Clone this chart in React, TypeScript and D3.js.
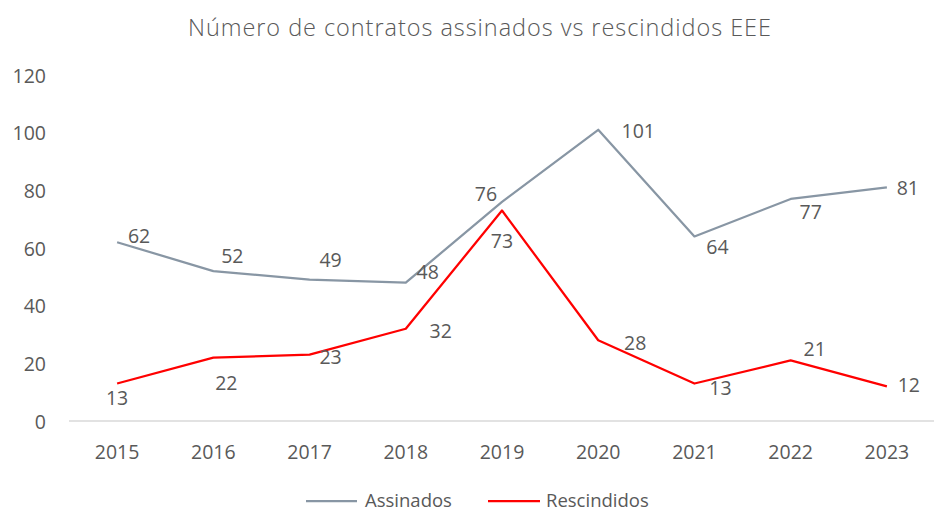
import React from "react";
import * as d3 from "d3";

const years = ["2015", "2016", "2017", "2018", "2019", "2020", "2021", "2022", "2023"];
const assinados = [62, 52, 49, 48, 76, 101, 64, 77, 81];
const rescindidos = [13, 22, 23, 32, 73, 28, 13, 21, 12];
const yTicks = [0, 20, 40, 60, 80, 100, 120];
const title = "Número de contratos assinados vs rescindidos EEE";

// label placement offsets (dx, dy) relative to each point
const assinadosLabelOffsets = [[22, -7], [19, -16], [21, -20], [22, -11], [-16, -8], [40, 1], [23, 10], [20, 13], [21, 0]];
const rescindidosLabelOffsets = [[0, 14], [13, 25], [21, 2], [35, 2], [0, 30], [37, 2], [26, 4], [24, -12], [22, -2]];

const W = 935, H = 512;
const FONT = "'Open Sans', sans-serif";
const TEXT = "#595959";

export default function App() {
  const x = d3.scalePoint<string>().domain(years).range([69, 935]).padding(0.5);
  const y = d3.scaleLinear().domain([0, 120]).range([421, 75]);
  const line = d3.line<number>().x((_, i) => x(years[i])!).y((d) => y(d));

  const series = [
    { name: "Assinados", values: assinados, color: "#8896A4", offs: assinadosLabelOffsets },
    { name: "Rescindidos", values: rescindidos, color: "#FF0000", offs: rescindidosLabelOffsets },
  ];

  return (
    <svg width={W} height={H} style={{ position: "absolute", left: 0, top: 0, background: "#fff" }} fontFamily={FONT}>
      <rect width={W} height={H} fill="#fff" />
      <text x={479.5} y={27} textAnchor="middle" dominantBaseline="central" fontSize={23.5} fontWeight={300} textLength={583} lengthAdjust="spacing" fill={TEXT}>{title}</text>
      {yTicks.map((t) => (
        <text key={t} x={46} y={y(t)} textAnchor="end" dominantBaseline="central" fontSize={19.5} fill={TEXT}>{t}</text>
      ))}
      <line x1={69} x2={934} y1={y(0)} y2={y(0)} stroke="#D9D9D9" strokeWidth={1.5} />
      {years.map((yr) => (
        <text key={yr} x={x(yr)} y={451} textAnchor="middle" dominantBaseline="central" fontSize={19.5} fill={TEXT}>{yr}</text>
      ))}
      {series.map((s) => (
        <g key={s.name}>
          <path d={line(s.values) || ""} fill="none" stroke={s.color} strokeWidth={2.25} strokeLinejoin="round" />
          {s.values.map((v, i) => (
            <text key={i} x={x(years[i])! + s.offs[i][0]} y={y(v) + s.offs[i][1]} textAnchor="middle" dominantBaseline="central" fontSize={19.5} fill={TEXT}>{v}</text>
          ))}
        </g>
      ))}
      <g>
        <line x1={306} x2={357} y1={501} y2={501} stroke="#8896A4" strokeWidth={2.25} />
        <text x={365} y={499} dominantBaseline="central" fontSize={18.5} fill={TEXT}>Assinados</text>
        <line x1={488} x2={540} y1={501} y2={501} stroke="#FF0000" strokeWidth={2.25} />
        <text x={546} y={499} dominantBaseline="central" fontSize={18.5} fill={TEXT}>Rescindidos</text>
      </g>
    </svg>
  );
}
